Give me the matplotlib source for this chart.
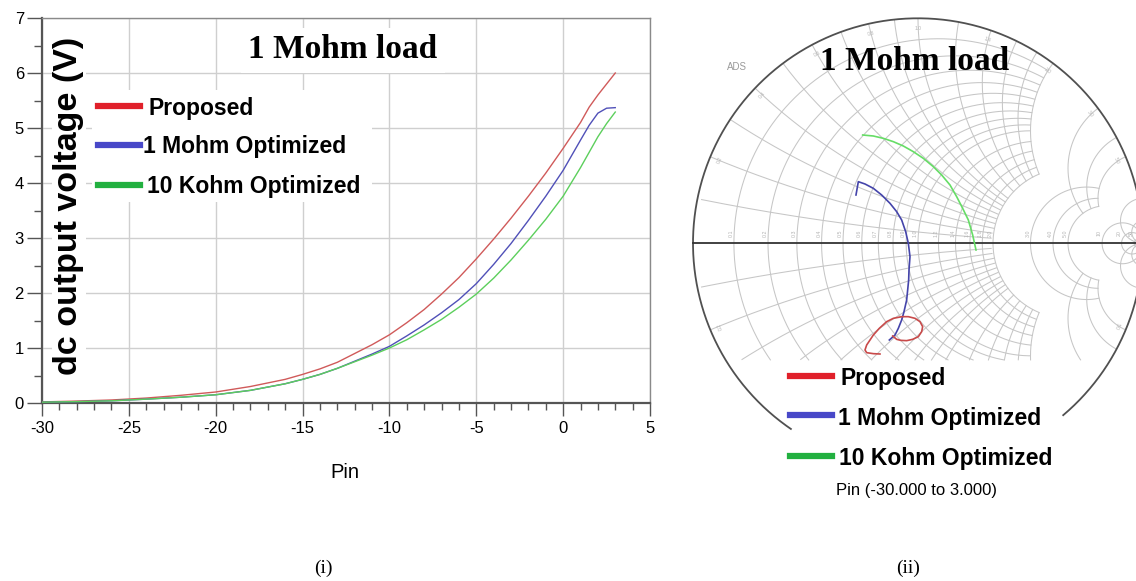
import numpy as np
import matplotlib
matplotlib.use("Agg")
import matplotlib.pyplot as plt
from matplotlib.lines import Line2D
from matplotlib.patches import Rectangle

plt.rcParams['font.family'] = ['Liberation Sans', 'DejaVu Sans']
plt.rcParams['axes.unicode_minus'] = False

# ---------------- data ----------------
pin = [-30, -28, -26, -24, -22, -20, -18, -16, -15, -14, -13, -12, -11, -10, -9, -8, -7, -6,
       -5, -4, -3, -2, -1, 0, 1, 1.5, 2, 2.5, 3]
v_proposed = [0.02, 0.035, 0.055, 0.09, 0.14, 0.20, 0.30, 0.43, 0.52, 0.62, 0.74, 0.90, 1.06, 1.24,
              1.46, 1.70, 1.98, 2.28, 2.62, 2.98, 3.36, 3.76, 4.18, 4.63, 5.10, 5.38, 5.60, 5.80, 6.00]
v_1mohm = [0.015, 0.025, 0.04, 0.07, 0.105, 0.15, 0.23, 0.35, 0.43, 0.52, 0.63, 0.76, 0.89, 1.03,
           1.22, 1.42, 1.64, 1.88, 2.17, 2.52, 2.90, 3.32, 3.76, 4.23, 4.78, 5.05, 5.27, 5.36, 5.37]
v_10kohm = [0.015, 0.025, 0.04, 0.07, 0.105, 0.15, 0.23, 0.35, 0.43, 0.52, 0.63, 0.75, 0.87, 1.00,
            1.15, 1.33, 1.52, 1.74, 1.98, 2.27, 2.60, 2.96, 3.34, 3.76, 4.28, 4.56, 4.84, 5.08, 5.29]

series_labels = ['Proposed', '1 Mohm Optimized', '10 Kohm Optimized']

# reflection-coefficient trajectories (Pin -30 .. 3)
g_prop_re = [-0.1689, -0.1985, -0.2281, -0.2356, -0.2281, -0.2133, -0.1985, -0.1719, -0.1393, -0.1096,
             -0.0726, -0.0430, -0.0133, 0.0089, 0.0207, 0.0163, 0.0015, -0.0237, -0.0504, -0.0770,
             -0.0948, -0.1126]
g_prop_im = [-0.4920, -0.4905, -0.4861, -0.4742, -0.4520, -0.4298, -0.4076, -0.3779, -0.3483, -0.3335,
             -0.3261, -0.3261, -0.3335, -0.3483, -0.3705, -0.3927, -0.4150, -0.4268, -0.4327, -0.4313,
             -0.4268, -0.4120]
g_1m_re = [-0.2756, -0.2652, -0.2356, -0.1985, -0.1615, -0.1244, -0.0948, -0.0726, -0.0548, -0.0430,
           -0.0356, -0.0400, -0.0415, -0.0504, -0.0622, -0.0726, -0.0874, -0.1022, -0.1274]
g_1m_im = [0.2147, 0.2739, 0.2636, 0.2443, 0.2147, 0.1776, 0.1406, 0.1036, 0.0517, 0.0,
           -0.0593, -0.1187, -0.1631, -0.2520, -0.3039, -0.3409, -0.3779, -0.4076, -0.4298]
g_10k_re = [-0.2459, -0.1985, -0.1541, -0.1096, -0.0652, -0.0208, 0.0237, 0.0681, 0.1052, 0.1422,
            0.1719, 0.1985, 0.2237, 0.2430, 0.2578]
g_10k_im = [0.4813, 0.4769, 0.4665, 0.4517, 0.4324, 0.4072, 0.3776, 0.3406, 0.3036, 0.2591,
            0.2072, 0.1554, 0.1036, 0.0369, -0.0298]

x_ticks = [-30, -25, -20, -15, -10, -5, 0, 5]
y_ticks = [0, 1, 2, 3, 4, 5, 6, 7]

grid_r_fine = [0.1, 0.2, 0.3, 0.4, 0.5, 0.6, 0.7, 0.8, 0.9, 1.0, 1.2, 1.4, 1.6, 1.8, 2.0]
grid_r_mid = [3.0, 4.0, 5.0]
grid_r_coarse = [10, 20, 50]

# ---------------- figure ----------------
W, H = 1136, 581
fig = plt.figure(figsize=(W / 100, H / 100), dpi=100)

def fx(px):
    return px / W

def fy(py):
    return 1 - py / H

line_cols = ['#d05a5a', '#5050b8', '#5ccf5c']
leg_cols = ['#e0202a', '#4848c8', '#22b040']

# ---------- left plot ----------
ax = fig.add_axes([fx(42), fy(403), (650 - 42) / W, (403 - 18) / H])
ax.set_xlim(-30, 5)
ax.set_ylim(0, 7)
for v, c in zip([v_proposed, v_1mohm, v_10kohm], line_cols):
    ax.plot(pin, v, color=c, lw=1.0, zorder=3)
ax.set_xticks(x_ticks)
ax.set_xticks(np.arange(-30, 6, 1), minor=True)
ax.set_yticks(y_ticks)
ax.set_yticks(np.arange(0, 7.01, 0.5), minor=True)
ax.grid(which='major', color='#cfcfcf', lw=1.0)
ax.tick_params(axis='x', which='major', direction='out', length=9, width=1.0,
               color='#555555', labelsize=12, pad=4)
ax.tick_params(axis='x', which='minor', direction='out', length=5, width=1.0, color='#555555')
ax.tick_params(axis='y', which='major', direction='out', length=11, width=1.0,
               color='#555555', labelsize=12, pad=2)
ax.tick_params(axis='y', which='minor', direction='out', length=6, width=1.0, color='#555555')
for s in ['left', 'bottom']:
    ax.spines[s].set_color('#555555')
    ax.spines[s].set_linewidth(1.6)
for s in ['top', 'right']:
    ax.spines[s].set_color('#8a8a8a')
    ax.spines[s].set_linewidth(1.0)

fig.text(fx(345), fy(472), 'Pin', fontsize=14.5, ha='center', va='center')
fig.text(fx(69), fy(206), 'dc output voltage (V)', rotation=90, fontsize=24.5,
         fontweight='bold', ha='center', va='center',
         bbox=dict(facecolor='white', edgecolor='none', pad=1))
fig.text(fx(343), fy(50), '1 Mohm load', family=['Liberation Serif'], fontsize=24,
         fontweight='bold', ha='center', va='center',
         bbox=dict(facecolor='white', edgecolor='none', pad=5))

# legend (left)
fig.add_artist(Rectangle((fx(92), fy(202)), fx(372) - fx(92), fy(90) - fy(202),
                         transform=fig.transFigure, facecolor='white', edgecolor='none', zorder=1))
leg_y = [106, 145, 185]
txt_x = [148, 143, 147]
for lab, c, y, tx in zip(series_labels, leg_cols, leg_y, txt_x):
    fig.add_artist(Line2D([fx(98), fx(140)], [fy(y), fy(y)], color=c, lw=4.5,
                          transform=fig.transFigure, zorder=4))
    fig.text(fx(tx), fy(y + 2), lab, fontsize=16.5, fontweight='bold', ha='left', va='center', zorder=5)

# ---------- Smith chart ----------
cx, cy, R = 918.0, 243.3, 225.0
ax2 = fig.add_axes([fx(680), fy(510), (1136 - 680) / W, 510 / H])
ax2.set_xlim((680 - cx) / R, (1136 - cx) / R)
ax2.set_ylim((cy - 510) / R, (cy - 0) / R)
ax2.axis('off')

gcut = (cy - 360) / R
gcol = '#c6c6c6'
phi = np.linspace(0, 2 * np.pi, 3000)

def draw_masked(g, z, mask):
    g = g.copy()
    m = mask & (g.imag > gcut) & (np.abs(g) <= 1.0005)
    g[~m] = np.nan
    ax2.plot(g.real, g.imag, color=gcol, lw=0.75, zorder=1)

def r_circle(r, xlim):
    g = r / (1 + r) + np.exp(1j * phi) / (1 + r)
    with np.errstate(all='ignore'):
        z = (1 + g) / (1 - g)
    draw_masked(g, z, np.abs(z.imag) <= xlim)

def x_arc(x, rlim):
    for s in (1, -1):
        xx = s * x
        g = 1 + 1j / xx + np.exp(1j * phi) / x
        with np.errstate(all='ignore'):
            z = (1 + g) / (1 - g)
        draw_masked(g, z, (z.real >= -1e-6) & (z.real <= rlim))

for r in grid_r_fine:
    r_circle(r, 2.0)
for r in grid_r_mid:
    r_circle(r, 5.0)
for r in grid_r_coarse:
    r_circle(r, 1e5)
for x in grid_r_fine:
    x_arc(x, 2.0)
for x in grid_r_mid:
    x_arc(x, 5.0)
for x in grid_r_coarse:
    x_arc(x, 1e5)

# small axis labels
for r in grid_r_fine + grid_r_mid + grid_r_coarse:
    gr = (r - 1) / (r + 1)
    lab = ('%.1f' % r) if r < 10 else '%d' % r
    ax2.text(gr - 0.012, 0.045, lab, rotation=90, fontsize=3.8, color='#b4b4b4',
             ha='center', va='center')
for x in [0.2, 0.4, 0.6, 0.8, 1.0, 1.4, 2.0, 3.0, 5.0]:
    for s in (1, -1):
        g = (1j * s * x - 1) / (1j * s * x + 1)
        if g.imag < gcut + 0.02:
            continue
        ang = np.degrees(np.angle(g))
        ax2.text(0.955 * g.real, 0.955 * g.imag, '%.1f' % x, rotation=ang - 90,
                 fontsize=3.6, color='#b4b4b4', ha='center', va='center')

th = np.radians(np.linspace(-49.8, 235.6, 600))
ax2.plot(np.cos(th), np.sin(th), color='#505050', lw=1.3, zorder=2)
ax2.plot([-1.0, 1.2], [0, 0], color='#333333', lw=1.3, zorder=2)

ax2.plot(g_10k_re, g_10k_im, color='#66dd66', lw=1.2, zorder=3)
ax2.plot(g_1m_re, g_1m_im, color='#4444aa', lw=1.2, zorder=3)
ax2.plot(g_prop_re, g_prop_im, color='#c84a4a', lw=1.2, zorder=3)

fig.text(fx(737), fy(67), 'ADS', fontsize=7, color='#9a9a9a', ha='center', va='center')
fig.text(fx(915), fy(62), '1 Mohm load', family=['Liberation Serif'], fontsize=24,
         fontweight='bold', ha='center', va='center')

leg2_y = [376, 415, 456]
txt2_x = [840, 838, 839]
for lab, c, y, tx in zip(series_labels, leg_cols, leg2_y, txt2_x):
    fig.add_artist(Line2D([fx(790), fx(832)], [fy(y), fy(y)], color=c, lw=4.5,
                          transform=fig.transFigure, zorder=4))
    fig.text(fx(tx), fy(y + 3), lab, fontsize=16.5, fontweight='bold', ha='left', va='center', zorder=5)
fig.text(fx(917), fy(491), 'Pin (-30.000 to 3.000)', fontsize=12, ha='center', va='center')

fig.text(fx(323), fy(568), '(i)', family=['Liberation Serif'], fontsize=14, ha='center', va='center')
fig.text(fx(908), fy(568), '(ii)', family=['Liberation Serif'], fontsize=14, ha='center', va='center')

fig.savefig('out.png', dpi=100)
